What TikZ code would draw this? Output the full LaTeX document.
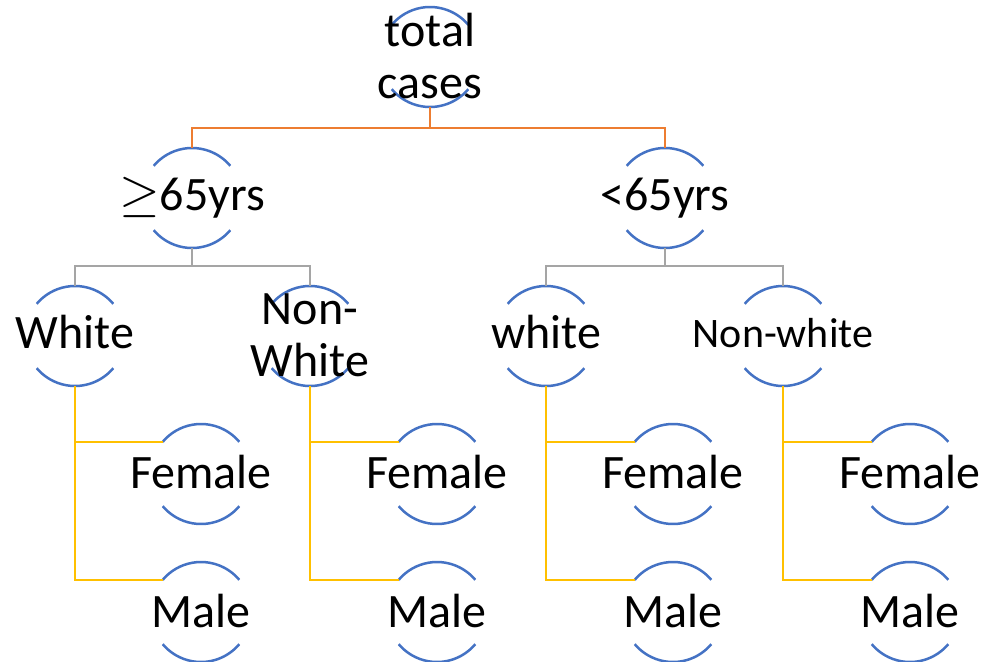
\documentclass[tikz,border=0pt]{standalone}
\usepackage{graphicx}
\usepackage{fontspec}
\setmainfont{Carlito}
\usetikzlibrary{calc}
\definecolor{arcblue}{HTML}{4472C4}
\definecolor{orangeline}{HTML}{ED7D31}
\definecolor{grayline}{HTML}{A5A5A5}
\definecolor{yellowline}{HTML}{FFC000}
\newcommand\mkring[3]{%
  \coordinate (#1) at (#2,-#3);
  \coordinate (#1-t) at ($(#1)+(0,50)$);
  \coordinate (#1-b) at ($(#1)+(0,-50)$);
  \coordinate (#1-l) at ($(#1)+(140:50)$);
  \draw[ring] ($(#1)+(40:50)$) arc[start angle=40,end angle=140,radius=50];
  \draw[ring] ($(#1)+(-40:50)$) arc[start angle=-40,end angle=-140,radius=50];
}
\begin{document}
\begin{tikzpicture}[x=1pt,y=1pt,
  lbl/.style={font=\fontsize{48}{52}\selectfont, inner sep=0pt, align=center, text=black},
  small/.style={font=\fontsize{42}{46}\selectfont},
  ring/.style={draw=arcblue, line width=2.5pt},
  oline/.style={draw=orangeline, line width=2.5pt},
  gline/.style={draw=grayline, line width=2.5pt},
  yline/.style={draw=yellowline, line width=2.5pt}]
\useasboundingbox (0,0) rectangle (987,-661);
\fill[white] (0,0) rectangle (987,-661);

% rings
\mkring{tot}{430}{57}
\mkring{a65}{192}{198}
\mkring{b65}{665}{198}
\mkring{w1}{75}{336}
\mkring{nw1}{310}{336}
\mkring{w2}{546}{336}
\mkring{nw2}{783}{336}
\mkring{f1}{201}{474}
\mkring{f2}{437}{474}
\mkring{f3}{673}{474}
\mkring{f4}{910}{474}
\mkring{m1}{201}{612}
\mkring{m2}{437}{612}
\mkring{m3}{673}{612}
\mkring{m4}{910}{612}

% connectors
\coordinate (tot-j) at ($(tot-b)+(0,-21)$);
\draw[oline] (tot-b) -- (tot-j) -| (a65-t);
\draw[oline] (tot-j) -| (b65-t);
\coordinate (a65-j) at ($(a65-b)+(0,-18)$);
\draw[gline] (a65-b) -- (a65-j) -| (w1-t);
\draw[gline] (a65-j) -| (nw1-t);
\coordinate (b65-j) at ($(b65-b)+(0,-18)$);
\draw[gline] (b65-b) -- (b65-j) -| (w2-t);
\draw[gline] (b65-j) -| (nw2-t);
\draw[yline] (w1-b) |- (f1-l);
\draw[yline] (w1-b) |- (m1-l);
\draw[yline] (nw1-b) |- (f2-l);
\draw[yline] (nw1-b) |- (m2-l);
\draw[yline] (w2-b) |- (f3-l);
\draw[yline] (w2-b) |- (m3-l);
\draw[yline] (nw2-b) |- (f4-l);
\draw[yline] (nw2-b) |- (m4-l);

% labels
\node[lbl] (tot-txt) at ($(tot)+(0,1)$) {total\\cases};
\node[lbl, anchor=base] (a65-txt) at ($(a65)+(0,-12)$) {\scalebox{2.1}{\(\geq\)}65yrs};
\node[lbl, anchor=base] (b65-txt) at ($(b65)+(0,-12)$) {<65yrs};
\node[lbl, anchor=base] (w1-txt) at ($(w1)+(0,-12)$) {White};
\node[lbl] (nw1-txt) at ($(nw1)+(0,1)$) {Non-\\White};
\node[lbl, anchor=base] (w2-txt) at ($(w2)+(0,-12)$) {white};
\node[lbl, small, anchor=base] (nw2-txt) at ($(nw2)+(0,-11)$) {Non-white};
\foreach \n in {f1,f2,f3,f4}{
  \node[lbl, anchor=base] (\n-txt) at ($(\n)+(0,-14)$) {Female};
}
\foreach \n in {m1,m2,m3,m4}{
  \node[lbl, anchor=base] (\n-txt) at ($(\n)+(0,-15)$) {Male};
}
\end{tikzpicture}
\end{document}
